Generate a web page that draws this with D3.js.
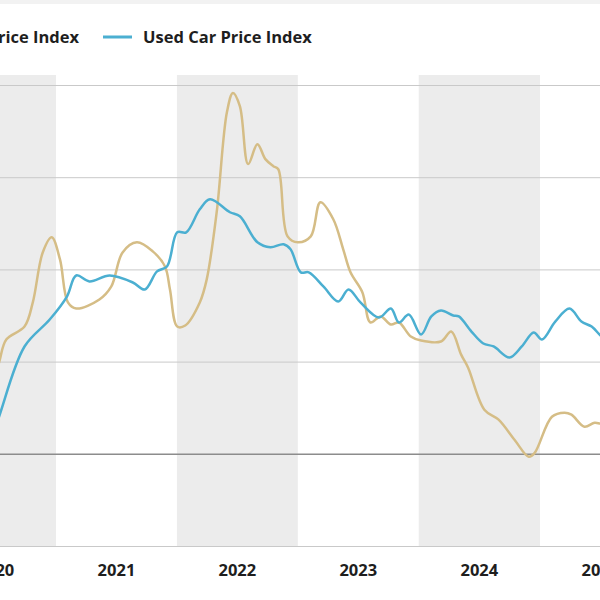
<!DOCTYPE html>
<html>
<head>
<meta charset="utf-8">
<script src="https://cdn.jsdelivr.net/npm/d3@7"></script>
<style>
  body { margin: 0; background: #fff; }
  svg { display: block; font-family: "Open Sans", Inter, sans-serif; }
</style>
</head>
<body>
<div id="chart"></div>
<script>
// Used vs new car price index, chart is cropped on both sides

var usedDates = ["2020-06-14","2020-07-13","2020-09-28","2020-12-13","2021-02-03","2021-03-03","2021-04-12",
  "2021-06-12","2021-08-21","2021-09-26","2021-11-02","2021-12-02","2022-01-02","2022-01-29","2022-03-11",
  "2022-04-11","2022-06-10","2022-07-10","2022-09-01","2022-10-10","2022-11-19","2022-12-10","2023-01-10",
  "2023-02-03","2023-03-19","2023-05-03","2023-06-03","2023-07-09","2023-09-03","2023-10-09","2023-11-02",
  "2023-12-02","2024-01-08","2024-02-08","2024-03-08","2024-04-14","2024-05-01","2024-06-08","2024-07-14",
  "2024-08-14","2024-10-01","2024-11-07","2024-12-13","2025-01-07","2025-02-16","2025-03-31","2025-05-06",
  "2025-06-06","2025-07-06","2025-08-12"];
var usedValues = [0.49, 2.01, 5.82, 7.28, 8.53, 9.67, 9.35, 9.67, 9.29, 8.91, 9.89, 10.16, 12.01, 12.01, 13.26,
  13.80, 13.10, 12.88, 11.47, 11.20, 11.36, 11.09, 9.84, 9.84, 9.08, 8.26, 8.91, 8.21, 7.39, 7.88, 7.12,
  7.55, 6.47, 7.45, 7.77, 7.50, 7.45, 6.63, 5.98, 5.82, 5.22, 5.82, 6.58, 6.20, 7.17, 7.88, 7.17,
  6.90, 6.36, 5.92];

var newDates = ["2020-06-14","2020-07-13","2020-08-04","2020-09-28","2020-10-23","2020-11-22","2020-12-19",
  "2021-01-13","2021-02-06","2021-03-03","2021-05-12","2021-06-17","2021-07-21","2021-09-02","2021-10-20",
  "2021-11-26","2021-12-11","2022-01-02","2022-01-26","2022-03-11","2022-04-01","2022-05-01","2022-06-01",
  "2022-06-19","2022-07-10","2022-08-04","2022-09-01","2022-09-25","2022-10-19","2022-11-03","2022-12-01",
  "2023-01-01","2023-02-09","2023-03-10","2023-04-18","2023-05-18","2023-06-09","2023-07-15","2023-08-08",
  "2023-09-08","2023-10-09","2023-11-02","2023-12-08","2024-01-08","2024-03-08","2024-04-08","2024-05-08",
  "2024-05-29","2024-07-17","2024-08-29","2024-10-16","2024-11-28","2024-12-16","2025-02-06","2025-03-16",
  "2025-04-06","2025-05-15","2025-06-15","2025-07-06","2025-08-12"];
var newValues = [3.37, 4.95, 6.20, 6.90, 8.21, 10.92, 11.74, 10.54, 8.21, 7.88, 8.37, 9.08, 10.92, 11.47, 10.98,
  10.16, 8.91, 6.90, 6.96, 8.21, 9.46, 13.10, 18.53, 19.57, 18.86, 15.71, 16.79, 15.98, 15.60, 15.43, 11.79,
  11.47, 11.79, 13.64, 12.72, 11.09, 9.84, 8.75, 7.12, 7.45, 7.01, 7.12, 6.36, 6.14, 6.09, 6.63, 5.38,
  4.67, 2.39, 1.85, 0.76, -0.16, 0.05, 2.01, 2.23, 2.12, 1.47, 1.68, 1.63, 1.74];

var yTicks = [-5, 0, 5, 10, 15, 20];
var years = [2020, 2021, 2022, 2023, 2024, 2025];
var shadedYears = [2020, 2022, 2024];

var seriesNames = ["New Car Price Index", "Used Car Price Index"];
var colors = ["#d5bd86", "#4bafd1"];

// Sizes

var width = 600;
var height = 600;
var plotTop = 75;
var plotBottom = 546;
var fontSize = 16.5;

var parse = d3.timeParse("%Y-%m-%d");

var svg = d3.select("#chart")
    .append("svg")
    .attr("width", width)
    .attr("height", height);

// Scales

var x = d3.scaleTime()
    .domain([new Date(2021, 0, 1), new Date(2025, 0, 1)])
    .range([56, 540]);

var y = d3.scaleLinear()
    .domain([-5, 20])
    .range([plotBottom, 85]);

// thin strip at the very top
svg.append("rect")
    .attr("x", 0).attr("y", 0)
    .attr("width", width).attr("height", 4)
    .attr("fill", "#f2f2f2");

// Shaded year bands

svg.selectAll(".band")
    .data(shadedYears)
    .enter()
    .append("rect")
    .attr("class", "band")
    .attr("x", function(d) { return x(new Date(d, 0, 1)); })
    .attr("width", function(d) { return x(new Date(d + 1, 0, 1)) - x(new Date(d, 0, 1)); })
    .attr("y", plotTop)
    .attr("height", plotBottom - plotTop)
    .attr("fill", "#ececec");

// Gridlines (the value labels sit outside the crop, so none are drawn)

var yAxis = svg.append("g")
    .call(d3.axisLeft(y).tickValues(yTicks).tickSize(-width).tickFormat(""));

yAxis.select(".domain").remove();
yAxis.selectAll(".tick text").remove();
yAxis.selectAll(".tick line")
    .attr("stroke", function(d) { return d === 0 ? "#8c8c8c" : "#c9c9c9"; })
    .attr("stroke-width", function(d) { return d === 0 ? 1.5 : 1; });

// Year labels

svg.selectAll(".year")
    .data(years)
    .enter()
    .append("text")
    .attr("class", "year")
    .attr("x", function(d) { return (x(new Date(d, 0, 1)) + x(new Date(d + 1, 0, 1))) / 2; })
    .attr("y", 576)
    .attr("text-anchor", "middle")
    .attr("font-size", fontSize)
    .attr("font-weight", 700)
    .attr("fill", "#1e1e1e")
    .text(function(d) { return d; });

// Lines

var line = d3.line()
    .x(function(d) { return x(d.date); })
    .y(function(d) { return y(d.value); })
    .curve(d3.curveCatmullRom.alpha(0.5));

var newData = newDates.map(function(d, i) { return {date: parse(d), value: newValues[i]}; });
var usedData = usedDates.map(function(d, i) { return {date: parse(d), value: usedValues[i]}; });

svg.append("path")
    .datum(newData)
    .attr("d", line)
    .attr("fill", "none")
    .attr("stroke", colors[0])
    .attr("stroke-width", 2.5);

svg.append("path")
    .datum(usedData)
    .attr("d", line)
    .attr("fill", "none")
    .attr("stroke", colors[1])
    .attr("stroke-width", 2.5);

// Legend

var legend = svg.append("g").attr("transform", "translate(0,37)");

var usedItem = legend.append("g").attr("transform", "translate(103,0)");
usedItem.append("line")
    .attr("x1", 0).attr("x2", 29)
    .attr("stroke", colors[1]).attr("stroke-width", 3);
usedItem.append("text")
    .attr("x", 40).attr("dy", "0.35em")
    .attr("font-size", fontSize).attr("font-weight", 700).attr("fill", "#1e1e1e")
    .text(seriesNames[1]);

var newItem = legend.append("g");
var newText = newItem.append("text")
    .attr("x", 79).attr("dy", "0.35em")
    .attr("text-anchor", "end")
    .attr("font-size", fontSize).attr("font-weight", 700).attr("fill", "#1e1e1e")
    .text(seriesNames[0]);
var tw = newText.node().getComputedTextLength();
newItem.append("line")
    .attr("x1", 79 - tw - 40).attr("x2", 79 - tw - 11)
    .attr("stroke", colors[0]).attr("stroke-width", 3);
</script>
</body>
</html>
